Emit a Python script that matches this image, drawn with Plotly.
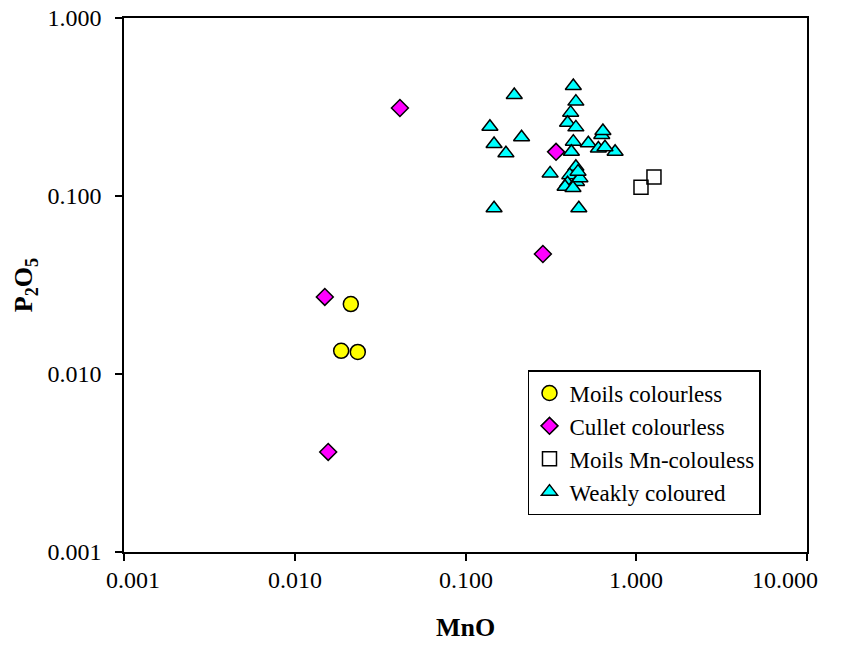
import math
import plotly.graph_objects as go

# MnO and P2O5 (wt%) by glass group
moils_mno = [0.0213, 0.0187, 0.0234]
moils_p2o5 = [0.0247, 0.0135, 0.0133]

cullet_mno = [0.0150, 0.0157, 0.0413, 0.339, 0.284]
cullet_p2o5 = [0.0271, 0.00365, 0.312, 0.177, 0.0472]

mn_moils_mno = [1.066, 1.27]
mn_moils_p2o5 = [0.112, 0.128]

weak_mno = [0.193, 0.428, 0.443, 0.413, 0.396, 0.443, 0.628, 0.524, 0.428,
            0.417, 0.600, 0.752, 0.656, 0.313, 0.443, 0.408, 0.396, 0.447,
            0.383, 0.461, 0.139, 0.213, 0.147, 0.1725, 0.147, 0.638, 0.468,
            0.426, 0.456]
weak_p2o5 = [0.369, 0.415, 0.339, 0.294, 0.258, 0.243, 0.220, 0.198, 0.202,
             0.1774, 0.185, 0.1774, 0.188, 0.134, 0.146, 0.131, 0.118, 0.120,
             0.1128, 0.0853, 0.245, 0.214, 0.196, 0.174, 0.0853, 0.232, 0.126,
             0.111, 0.137]

x_tickvals = [0.001, 0.01, 0.1, 1, 10]
x_ticktext = ["0.001", "0.010", "0.100", "1.000", "10.000"]
y_tickvals = [0.001, 0.01, 0.1, 1]
y_ticktext = ["0.001", "0.010", "0.100", "1.000"]

FONT = "Liberation Serif"
TICK_SIZE = 24
outline = dict(color="black", width=1.5)

fig = go.Figure()
fig.add_trace(go.Scatter(
    x=moils_mno, y=moils_p2o5, mode="markers", name="Moils colourless",
    marker=dict(symbol="circle", size=15, color="#FFFF00", line=outline)))
fig.add_trace(go.Scatter(
    x=cullet_mno, y=cullet_p2o5, mode="markers", name="Cullet colourless",
    marker=dict(symbol="diamond", size=13, color="#FF00FF", line=outline)))
fig.add_trace(go.Scatter(
    x=mn_moils_mno, y=mn_moils_p2o5, mode="markers", name="Moils Mn-colouless",
    marker=dict(symbol="square", size=14, color="rgba(0,0,0,0)", line=outline)))
fig.add_trace(go.Scatter(
    x=weak_mno, y=weak_p2o5, mode="markers", name="Weakly coloured",
    marker=dict(symbol="triangle-up", size=14, color="#00FFFF", line=outline)))

axis_common = dict(
    type="log", showline=True, linecolor="black", linewidth=1.5, mirror=True,
    showgrid=False, zeroline=False, ticks="outside", ticklen=7, tickwidth=1.5,
    tickcolor="black", tickfont=dict(family=FONT, size=TICK_SIZE, color="black"),
    ticklabelstandoff=9, automargin=False,
)

# x tick labels as annotations so the end labels can be nudged inside the frame
x_label_shift = [9, 0, 0, 0, -22]
annotations = [
    dict(x=math.log10(v), xref="x", y=0, yref="paper", yanchor="top",
         yshift=-13, xshift=s, text=t, showarrow=False,
         font=dict(family=FONT, size=TICK_SIZE, color="black"))
    for v, t, s in zip(x_tickvals, x_ticktext, x_label_shift)
]

fig.update_layout(
    width=843, height=653,
    margin=dict(l=124, r=36, t=18, b=101),
    paper_bgcolor="white", plot_bgcolor="white",
    font=dict(family=FONT, color="black"),
    showlegend=True,
    legend=dict(
        x=0.5915, y=0.3408, xanchor="left", yanchor="top",
        bordercolor="black", borderwidth=1.5, bgcolor="white",
        font=dict(family=FONT, size=23, color="black"),
    ),
    xaxis=dict(
        **axis_common, range=[-3, 1],
        tickvals=x_tickvals, ticktext=x_ticktext, showticklabels=False,
        title=dict(text="<b>MnO</b>", font=dict(family=FONT, size=26), standoff=58),
    ),
    yaxis=dict(
        **axis_common, range=[-3, 0],
        tickvals=y_tickvals, ticktext=y_ticktext,
        title=dict(text="<b>P<sub>2</sub>O<sub>5</sub></b>",
                   font=dict(family=FONT, size=26), standoff=7),
    ),
    annotations=annotations,
)

fig.write_html("out.html")
